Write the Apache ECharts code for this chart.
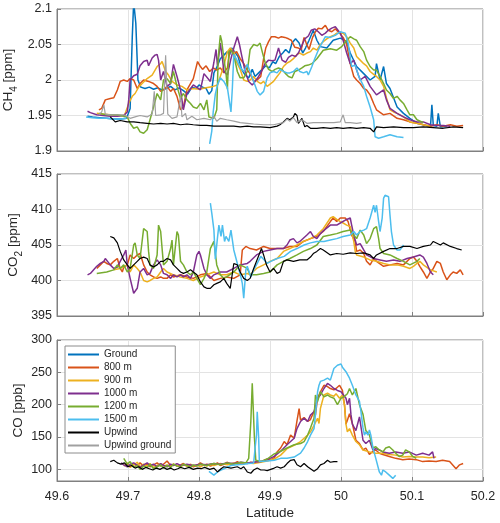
<!DOCTYPE html>
<html><head><meta charset="utf-8">
<script src="https://cdn.jsdelivr.net/npm/echarts@6/dist/echarts.min.js"></script>
<style>html,body{margin:0;padding:0;background:#fff}#c{width:500px;height:523px}</style>
</head><body><div id="c"></div>
<script>
const seriesNames = ['Ground','800 m','900 m','1000 m','1200 m','1500 m','Upwind','Upwind ground'];
const xRange = [49.6, 50.2];
const ch4Range = [1.9, 2.1];
const co2Range = [395, 415];
const coRange = [82, 300];

// ---- CH4 [ppm] : [latitude, value]
const ch4_ground = [[49.643,1.949],[49.65,1.948],[49.66,1.947],[49.67,1.946],[49.68,1.945],[49.69,1.945],[49.698,1.946],[49.703,1.96],[49.706,2.06],[49.708,2.11],[49.711,2.08],[49.714,2.0],[49.718,1.99],[49.724,1.988],[49.73,1.99],[49.736,1.987],[49.742,1.989],[49.748,1.986],[49.754,1.988],[49.76,1.991],[49.766,1.986],[49.772,1.989],[49.778,1.985],[49.784,1.98],[49.79,1.99],[49.796,1.988],[49.8,1.993],[49.805,1.99],[49.81,1.988],[49.814,1.98],[49.818,1.985],[49.821,2.01],[49.826,2.02],[49.83,2.03],[49.835,2.035],[49.84,2.04],[49.843,2.035],[49.846,2.045],[49.85,2.04],[49.855,2.033],[49.86,2.015],[49.865,2.007],[49.87,2.003],[49.875,2.015],[49.879,2.005],[49.884,2.01],[49.889,2.015],[49.894,2.02],[49.899,2.017],[49.904,2.026],[49.908,2.023],[49.913,2.033],[49.918,2.038],[49.922,2.043],[49.927,2.038],[49.931,2.052],[49.936,2.058],[49.941,2.052],[49.946,2.038],[49.95,2.045],[49.955,2.056],[49.961,2.07],[49.966,2.056],[49.971,2.047],[49.98,2.045],[49.989,2.056],[49.999,2.059],[50.008,2.054],[50.013,2.038],[50.022,2.019],[50.032,2.009],[50.041,2.0],[50.048,2.005],[50.05,2.023],[50.055,2.0],[50.06,2.019],[50.064,1.995],[50.069,1.988],[50.079,1.962],[50.088,1.953],[50.097,1.946],[50.107,1.939],[50.116,1.937],[50.126,1.934],[50.128,1.965],[50.13,1.936],[50.135,1.935],[50.137,1.953],[50.14,1.934],[50.149,1.934]];
const ch4_800 = [[49.659,1.958],[49.663,1.96],[49.668,1.972],[49.675,1.974],[49.68,1.975],[49.685,1.986],[49.689,1.998],[49.694,2.0],[49.699,1.998],[49.703,2.002],[49.708,2.0],[49.713,1.988],[49.717,1.995],[49.722,2.0],[49.729,1.998],[49.736,1.995],[49.741,1.991],[49.746,1.984],[49.75,1.986],[49.755,1.991],[49.76,1.984],[49.764,1.988],[49.769,1.977],[49.774,1.958],[49.778,1.962],[49.783,1.986],[49.788,1.995],[49.792,2.002],[49.795,2.014],[49.798,2.026],[49.802,2.019],[49.805,2.015],[49.81,2.02],[49.815,2.012],[49.82,2.017],[49.825,2.014],[49.83,2.017],[49.835,2.01],[49.84,2.017],[49.844,2.045],[49.849,2.037],[49.853,2.04],[49.858,2.03],[49.863,2.023],[49.868,2.014],[49.872,2.009],[49.877,1.998],[49.882,2.0],[49.887,2.005],[49.891,2.03],[49.894,2.045],[49.898,2.054],[49.902,2.061],[49.907,2.061],[49.912,2.059],[49.916,2.061],[49.921,2.06],[49.926,2.058],[49.93,2.056],[49.935,2.046],[49.94,2.045],[49.944,2.043],[49.948,2.06],[49.951,2.052],[49.955,2.043],[49.96,2.06],[49.964,2.068],[49.968,2.073],[49.973,2.072],[49.978,2.077],[49.982,2.07],[49.987,2.068],[49.992,2.072],[49.998,2.066],[50.003,2.06],[50.008,2.05],[50.013,2.023],[50.018,2.005],[50.022,2.0],[50.027,1.995],[50.032,1.988],[50.036,1.986],[50.041,1.979],[50.046,1.967],[50.05,1.958],[50.06,1.951],[50.069,1.953],[50.079,1.946],[50.088,1.944],[50.097,1.941],[50.107,1.939],[50.116,1.937],[50.126,1.935],[50.135,1.937],[50.144,1.935],[50.154,1.937],[50.163,1.935],[50.172,1.936]];
const ch4_900 = [[49.656,1.953],[49.665,1.952],[49.675,1.951],[49.685,1.95],[49.695,1.95],[49.701,1.967],[49.706,1.977],[49.71,1.981],[49.715,1.99],[49.72,1.995],[49.727,2.002],[49.734,2.007],[49.741,2.019],[49.746,2.023],[49.748,2.026],[49.753,2.012],[49.757,2.007],[49.762,1.998],[49.769,1.993],[49.776,1.991],[49.783,1.986],[49.792,1.988],[49.8,1.987],[49.81,1.989],[49.82,1.991],[49.826,1.993],[49.83,2.005],[49.835,2.02],[49.84,2.04],[49.844,2.045],[49.849,2.04],[49.853,2.025],[49.858,2.015],[49.863,2.0],[49.868,1.998],[49.872,2.0],[49.877,2.005],[49.882,1.998],[49.887,1.995],[49.891,1.998],[49.896,1.991],[49.901,1.995],[49.905,1.998],[49.91,2.005],[49.914,2.01],[49.919,2.019],[49.924,2.024],[49.928,2.026],[49.933,2.03],[49.938,2.036],[49.942,2.038],[49.947,2.035],[49.952,2.038],[49.957,2.04],[49.961,2.045],[49.966,2.042],[49.971,2.05],[49.975,2.054],[49.98,2.058],[49.985,2.061],[49.99,2.063],[49.994,2.066],[49.999,2.066],[50.003,2.066],[50.008,2.061],[50.013,2.052],[50.018,2.045],[50.022,2.033],[50.027,2.028],[50.032,2.023],[50.036,2.02],[50.041,2.012],[50.046,2.008],[50.05,2.005],[50.055,2.0],[50.06,1.991],[50.064,1.975],[50.069,1.958],[50.074,1.955],[50.079,1.953],[50.088,1.948],[50.097,1.941],[50.107,1.939],[50.116,1.937],[50.126,1.935]];
const ch4_1000 = [[49.643,1.956],[49.647,1.954],[49.656,1.951],[49.665,1.95],[49.675,1.949],[49.685,1.949],[49.694,1.95],[49.699,1.955],[49.701,1.972],[49.703,2.0],[49.708,2.006],[49.713,2.008],[49.717,2.02],[49.722,2.026],[49.727,2.028],[49.729,2.02],[49.734,2.031],[49.738,2.035],[49.741,2.036],[49.743,2.028],[49.746,2.0],[49.75,2.012],[49.755,1.991],[49.76,1.995],[49.764,2.022],[49.769,2.005],[49.774,1.986],[49.778,1.958],[49.783,1.981],[49.792,1.993],[49.802,1.986],[49.807,2.009],[49.816,1.998],[49.821,2.025],[49.824,2.043],[49.826,2.02],[49.828,2.035],[49.83,2.052],[49.833,2.03],[49.835,2.012],[49.84,2.007],[49.845,2.03],[49.849,2.045],[49.854,2.061],[49.857,2.05],[49.86,2.035],[49.865,2.012],[49.87,1.998],[49.875,1.993],[49.879,1.998],[49.884,2.005],[49.889,2.014],[49.893,2.023],[49.898,2.028],[49.903,2.027],[49.907,2.028],[49.912,2.045],[49.917,2.028],[49.922,2.025],[49.926,2.032],[49.931,2.035],[49.936,2.033],[49.94,2.038],[49.945,2.049],[49.949,2.058],[49.954,2.062],[49.958,2.07],[49.963,2.072],[49.968,2.068],[49.973,2.063],[49.978,2.066],[49.982,2.07],[49.987,2.073],[49.992,2.075],[49.999,2.066],[50.003,2.056],[50.008,2.038],[50.013,2.023],[50.018,2.028],[50.022,2.014],[50.027,2.0],[50.034,2.005],[50.041,1.991],[50.05,1.979],[50.06,1.986],[50.064,1.972],[50.069,1.96],[50.079,1.953],[50.088,1.948],[50.097,1.944],[50.107,1.941],[50.116,1.941],[50.126,1.937],[50.135,1.936],[50.144,1.936],[50.154,1.935]];
const ch4_1200 = [[49.659,1.953],[49.67,1.951],[49.685,1.951],[49.699,1.948],[49.703,1.939],[49.708,1.932],[49.713,1.934],[49.717,1.927],[49.722,1.925],[49.727,1.93],[49.731,1.944],[49.736,1.962],[49.741,1.981],[49.746,1.972],[49.75,2.0],[49.755,2.002],[49.76,1.995],[49.764,2.012],[49.769,1.991],[49.774,1.974],[49.778,1.981],[49.783,1.972],[49.788,1.967],[49.792,1.962],[49.797,1.96],[49.802,1.967],[49.807,1.958],[49.811,1.972],[49.814,1.948],[49.821,1.946],[49.825,1.958],[49.827,2.03],[49.83,2.063],[49.832,2.055],[49.835,2.03],[49.838,2.01],[49.84,1.987],[49.842,2.04],[49.845,2.042],[49.849,2.035],[49.854,2.012],[49.858,2.003],[49.863,2.003],[49.868,2.012],[49.872,2.043],[49.877,2.05],[49.882,2.048],[49.886,2.052],[49.889,2.04],[49.893,2.025],[49.898,2.015],[49.903,2.012],[49.907,2.015],[49.912,2.017],[49.917,2.015],[49.921,2.01],[49.926,2.005],[49.931,2.003],[49.935,2.012],[49.94,2.014],[49.945,2.017],[49.949,2.02],[49.954,2.021],[49.959,2.023],[49.966,2.03],[49.975,2.042],[49.985,2.044],[49.994,2.042],[50.001,2.047],[50.008,2.056],[50.013,2.061],[50.018,2.058],[50.022,2.056],[50.027,2.047],[50.032,2.04],[50.036,2.028],[50.041,2.019],[50.046,2.014],[50.05,2.014],[50.055,2.005],[50.06,1.995],[50.064,1.986],[50.069,1.981],[50.074,1.974],[50.079,1.977],[50.083,1.972],[50.088,1.967],[50.093,1.958],[50.097,1.951],[50.102,1.951],[50.107,1.944],[50.116,1.94]];
const ch4_1500 = [[49.641,1.948],[49.65,1.947],[49.66,1.946],[49.67,1.946],[49.68,1.945],[49.69,1.945],[49.698,1.946],[49.75,null],[49.815,1.91],[49.818,1.928],[49.82,1.955],[49.823,1.98],[49.826,1.993],[49.83,2.003],[49.835,1.998],[49.84,1.989],[49.845,1.955],[49.847,1.989],[49.849,2.036],[49.854,2.027],[49.858,2.018],[49.863,2.012],[49.868,2.022],[49.872,2.012],[49.877,1.998],[49.882,1.984],[49.886,1.979],[49.891,1.984],[49.896,2.003],[49.9,2.01],[49.905,2.012],[49.91,2.01],[49.914,2.015],[49.919,2.012],[49.924,2.01],[49.928,2.01],[49.933,2.012],[49.938,2.017],[49.942,2.012],[49.947,2.01],[49.952,2.012],[49.954,2.007],[49.959,2.019],[49.963,2.03],[49.968,2.042],[49.973,2.052],[49.978,2.061],[49.985,2.06],[49.992,2.063],[49.999,2.068],[50.006,2.066],[50.01,2.052],[50.015,2.019],[50.02,2.021],[50.025,2.005],[50.032,1.991],[50.036,1.977],[50.041,1.962],[50.046,1.944],[50.048,1.92],[50.053,1.918],[50.06,1.92],[50.069,1.923],[50.079,1.92],[50.088,1.919]];
const ch4_upwind = [[49.675,1.948],[49.682,1.941],[49.689,1.943],[49.699,1.941],[49.708,1.941],[49.717,1.94],[49.727,1.939],[49.736,1.938],[49.746,1.939],[49.755,1.938],[49.764,1.939],[49.774,1.937],[49.783,1.938],[49.792,1.937],[49.802,1.936],[49.811,1.936],[49.821,1.935],[49.83,1.935],[49.839,1.935],[49.849,1.935],[49.858,1.934],[49.868,1.935],[49.877,1.934],[49.886,1.934],[49.9,1.933],[49.91,1.935],[49.914,1.937],[49.919,1.941],[49.924,1.946],[49.928,1.944],[49.933,1.948],[49.935,1.953],[49.938,1.95],[49.94,1.939],[49.945,1.946],[49.949,1.934],[49.952,1.936],[49.957,1.932],[49.966,1.932],[49.975,1.933],[49.985,1.932],[49.994,1.933],[50.003,1.932],[50.013,1.933],[50.022,1.932],[50.032,1.933],[50.041,1.932],[50.046,1.927],[50.05,1.934],[50.06,1.933],[50.074,1.934],[50.088,1.933],[50.102,1.933],[50.116,1.934],[50.13,1.933],[50.144,1.932],[50.158,1.934],[50.172,1.933]];
const ch4_upground = [[49.659,1.951],[49.663,1.955],[49.666,1.965],[49.668,1.952],[49.675,1.951],[49.685,1.951],[49.694,1.951],[49.703,1.946],[49.71,1.948],[49.717,1.95],[49.727,1.948],[49.734,1.952],[49.737,1.984],[49.739,1.95],[49.746,1.951],[49.75,1.953],[49.753,2.035],[49.756,1.952],[49.762,1.946],[49.769,1.948],[49.774,1.977],[49.776,1.948],[49.781,1.953],[49.783,1.944],[49.79,1.949],[49.797,1.944],[49.807,1.946],[49.816,1.944],[49.821,1.949],[49.825,1.942],[49.83,1.946],[49.839,1.944],[49.849,1.942],[49.858,1.94],[49.868,1.939],[49.877,1.938],[49.891,1.937],[49.905,1.937],[49.919,1.94],[49.924,1.945],[49.928,1.942],[49.933,1.947],[49.938,1.94],[49.945,1.944],[49.952,1.939],[49.961,1.94],[49.975,1.94],[49.99,1.94],[49.999,1.941],[50.003,1.951],[50.006,1.94],[50.013,1.94],[50.022,1.939],[50.029,1.94]];

// ---- CO2 [ppm]
const co2_800 = [[49.656,401.7],[49.661,402.2],[49.666,402.7],[49.67,402.4],[49.675,402.2],[49.68,402.7],[49.685,403.1],[49.689,401.7],[49.692,401.2],[49.694,401.9],[49.699,402.2],[49.703,403.6],[49.708,403.1],[49.713,403.6],[49.717,403.8],[49.722,402.2],[49.727,401.2],[49.731,400.8],[49.736,400.5],[49.741,400.3],[49.746,400.5],[49.75,400.3],[49.755,400.3],[49.76,400.8],[49.764,400.5],[49.774,400.8],[49.783,400.5],[49.792,400.3],[49.802,400.8],[49.811,401.0],[49.821,400.0],[49.83,400.3],[49.839,400.5],[49.849,400.3],[49.858,400.8],[49.861,404.3],[49.866,404.8],[49.872,404.5],[49.881,404.3],[49.891,404.8],[49.9,404.5],[49.91,404.5],[49.919,404.5],[49.928,404.8],[49.938,404.8],[49.947,405.5],[49.957,405.9],[49.966,406.2],[49.975,406.9],[49.985,408.3],[49.989,408.8],[49.994,408.3],[49.999,408.8],[50.006,408.8],[50.01,408.3],[50.015,406.4],[50.02,405.5],[50.022,404.1],[50.027,404.3],[50.032,403.8],[50.036,402.7],[50.041,402.2],[50.046,403.1],[50.05,402.7],[50.06,402.0],[50.069,402.2],[50.079,402.4],[50.088,402.2],[50.097,403.1],[50.102,403.3],[50.107,402.7],[50.111,402.0],[50.116,401.2],[50.121,400.3],[50.126,401.2],[50.13,401.7],[50.135,402.7],[50.14,402.4],[50.144,401.2],[50.149,400.1],[50.154,400.8],[50.158,401.2],[50.163,401.0],[50.168,401.5],[50.172,400.8]];
const co2_900 = [[49.68,401.5],[49.689,401.7],[49.699,402.2],[49.703,401.2],[49.708,402.2],[49.713,401.7],[49.717,401.2],[49.722,400.0],[49.727,399.8],[49.731,400.0],[49.736,400.3],[49.741,400.5],[49.746,401.2],[49.75,401.7],[49.755,401.2],[49.764,400.8],[49.774,400.5],[49.783,400.3],[49.792,400.0],[49.802,400.5],[49.811,400.8],[49.821,401.2],[49.83,400.8],[49.839,400.8],[49.849,401.2],[49.858,400.8],[49.868,401.0],[49.872,400.8],[49.881,401.7],[49.891,402.2],[49.9,402.7],[49.91,403.1],[49.919,404.1],[49.928,404.5],[49.938,405.0],[49.947,405.5],[49.957,405.9],[49.966,406.4],[49.975,407.3],[49.985,408.8],[49.989,409.0],[49.994,408.6],[49.999,408.3],[50.003,408.1],[50.008,407.8],[50.013,407.6],[50.018,405.5],[50.02,404.1],[50.022,403.6],[50.032,403.3],[50.041,402.9],[50.05,402.7],[50.06,402.4],[50.069,402.2],[50.079,402.2],[50.088,402.0],[50.097,401.7],[50.102,402.0],[50.107,402.4],[50.111,402.7],[50.116,402.2],[50.126,401.5],[50.135,401.2]];
const co2_1000 = [[49.643,400.8],[49.647,401.0],[49.656,402.0],[49.661,402.4],[49.666,402.7],[49.668,403.1],[49.675,402.2],[49.68,401.7],[49.685,401.9],[49.689,402.7],[49.694,403.6],[49.697,404.3],[49.699,402.2],[49.703,400.3],[49.708,398.2],[49.713,398.9],[49.717,401.2],[49.722,401.7],[49.727,400.8],[49.731,401.0],[49.736,402.2],[49.741,402.9],[49.746,402.2],[49.75,401.0],[49.755,400.8],[49.76,400.3],[49.764,400.8],[49.769,400.5],[49.774,400.8],[49.778,400.5],[49.783,400.8],[49.788,400.3],[49.792,401.2],[49.797,403.6],[49.8,404.1],[49.802,403.6],[49.807,401.7],[49.811,400.8],[49.816,400.3],[49.821,400.8],[49.83,401.2],[49.839,401.2],[49.849,401.7],[49.858,402.2],[49.868,402.4],[49.872,402.7],[49.881,403.6],[49.891,404.1],[49.9,404.3],[49.91,404.5],[49.919,404.5],[49.924,405.0],[49.928,405.7],[49.933,405.9],[49.938,405.3],[49.942,405.5],[49.952,406.4],[49.957,406.9],[49.961,406.2],[49.966,405.9],[49.971,406.6],[49.975,407.0],[49.985,407.8],[49.994,407.8],[49.999,408.1],[50.008,408.6],[50.013,408.8],[50.015,407.8],[50.018,406.4],[50.022,405.0],[50.027,405.2],[50.032,404.3],[50.036,403.6],[50.046,403.1],[50.055,402.9],[50.064,402.7],[50.074,402.9],[50.083,402.7],[50.093,403.1],[50.102,403.3],[50.111,403.6],[50.116,403.3],[50.121,402.4],[50.126,401.2],[50.13,400.8]];
const co2_1200 = [[49.656,401.0],[49.67,401.2],[49.68,401.5],[49.685,402.2],[49.689,401.7],[49.694,402.2],[49.699,401.2],[49.703,401.7],[49.708,405.0],[49.71,405.3],[49.713,403.6],[49.717,403.1],[49.722,407.3],[49.727,406.9],[49.729,404.1],[49.731,402.2],[49.736,401.7],[49.741,403.6],[49.743,407.8],[49.746,406.9],[49.75,402.2],[49.755,402.7],[49.76,404.5],[49.762,405.7],[49.764,402.2],[49.769,406.9],[49.771,406.4],[49.774,402.7],[49.778,402.2],[49.783,401.2],[49.788,400.8],[49.792,401.2],[49.797,400.3],[49.802,399.4],[49.807,400.3],[49.811,401.2],[49.816,404.5],[49.821,405.5],[49.825,402.2],[49.83,400.8],[49.835,400.3],[49.839,400.5],[49.849,401.2],[49.858,402.2],[49.868,401.7],[49.872,400.8],[49.881,400.8],[49.891,401.0],[49.9,401.2],[49.91,402.2],[49.919,402.7],[49.928,403.1],[49.938,403.6],[49.947,404.1],[49.957,404.5],[49.966,405.0],[49.975,406.2],[49.985,406.4],[49.994,406.6],[50.003,406.9],[50.013,407.1],[50.018,406.4],[50.022,405.9],[50.027,407.1],[50.032,406.4],[50.036,405.2],[50.041,405.9],[50.046,407.3],[50.05,407.6],[50.053,405.9],[50.055,404.5],[50.06,403.8],[50.069,403.6],[50.079,403.1],[50.088,402.7],[50.097,402.2],[50.107,402.7],[50.111,403.1]];
const co2_1500 = [[49.816,410.9],[49.818,409.5],[49.821,407.1],[49.823,403.0],[49.826,406.0],[49.828,407.8],[49.831,406.2],[49.833,407.8],[49.836,405.5],[49.838,406.2],[49.842,405.5],[49.845,407.1],[49.849,404.3],[49.854,402.4],[49.859,400.5],[49.861,399.6],[49.863,397.5],[49.866,401.5],[49.868,402.0],[49.873,400.5],[49.877,401.5],[49.882,402.4],[49.887,403.4],[49.892,402.9],[49.896,402.4],[49.901,402.7],[49.91,403.1],[49.92,403.4],[49.929,404.1],[49.938,404.5],[49.948,405.0],[49.957,405.3],[49.966,405.5],[49.976,405.5],[49.985,405.7],[49.994,405.9],[50.003,406.2],[50.013,406.4],[50.018,406.9],[50.022,406.4],[50.027,406.9],[50.032,407.1],[50.036,407.3],[50.041,408.8],[50.046,410.6],[50.048,409.6],[50.05,410.6],[50.053,408.3],[50.055,406.9],[50.058,408.8],[50.06,411.6],[50.062,412.0],[50.067,411.8],[50.069,409.2],[50.071,406.9],[50.074,405.0],[50.079,404.3],[50.083,404.3],[50.088,405.0]];
const co2_upwind = [[49.675,406.2],[49.68,406.0],[49.685,405.3],[49.687,405.5],[49.689,404.1],[49.694,402.9],[49.699,402.2],[49.703,401.7],[49.708,402.2],[49.713,402.7],[49.717,403.1],[49.722,403.3],[49.727,403.1],[49.731,402.2],[49.736,401.9],[49.741,402.2],[49.746,402.7],[49.75,402.7],[49.755,403.1],[49.76,402.9],[49.764,402.2],[49.769,401.7],[49.774,401.2],[49.778,401.0],[49.783,401.2],[49.788,401.5],[49.792,401.2],[49.797,400.8],[49.802,399.8],[49.807,399.1],[49.811,398.9],[49.816,398.9],[49.821,399.4],[49.825,399.6],[49.83,399.8],[49.835,400.3],[49.839,399.6],[49.844,398.9],[49.849,402.4],[49.854,402.2],[49.858,401.2],[49.863,400.3],[49.868,400.0],[49.872,400.3],[49.877,401.7],[49.881,402.7],[49.888,404.5],[49.891,403.6],[49.895,402.2],[49.9,401.2],[49.905,401.7],[49.91,401.0],[49.914,401.2],[49.919,402.7],[49.924,402.9],[49.933,402.7],[49.942,402.9],[49.952,402.9],[49.957,403.3],[49.961,403.8],[49.966,404.1],[49.971,404.5],[49.975,404.3],[49.985,403.6],[49.994,403.8],[50.003,403.7],[50.013,403.9],[50.022,403.8],[50.032,403.9],[50.041,403.6],[50.046,403.1],[50.05,403.6],[50.06,404.1],[50.069,404.5],[50.079,404.5],[50.088,404.8],[50.097,404.8],[50.107,404.5],[50.116,404.8],[50.126,405.0],[50.13,405.5],[50.14,405.0],[50.144,405.3],[50.154,404.8],[50.163,404.5],[50.17,404.3]];

// ---- CO [ppb]
const co_800 = [[49.698,109],[49.703,104],[49.708,108],[49.713,106],[49.717,110],[49.722,105],[49.727,108],[49.731,104],[49.736,107],[49.741,110],[49.746,105],[49.75,108],[49.755,113],[49.76,106],[49.764,108],[49.769,105],[49.774,107],[49.778,109],[49.783,105],[49.788,107],[49.792,104],[49.797,106],[49.802,110],[49.807,106],[49.811,108],[49.816,105],[49.821,107],[49.826,110],[49.83,106],[49.835,108],[49.84,111],[49.845,107],[49.849,109],[49.854,112],[49.859,108],[49.863,110],[49.868,109],[49.873,111],[49.877,110],[49.882,113],[49.887,112],[49.892,114],[49.896,116],[49.901,115],[49.906,118],[49.91,127],[49.915,133],[49.92,143],[49.924,138],[49.929,153],[49.934,148],[49.938,175],[49.941,194],[49.943,176],[49.948,180],[49.953,174],[49.957,177],[49.962,190],[49.964,184],[49.967,210],[49.971,220],[49.976,230],[49.981,228],[49.985,225],[49.99,223],[49.993,225],[49.998,230],[50.002,222],[50.005,199],[50.007,170],[50.009,176],[50.012,186],[50.016,171],[50.021,145],[50.026,140],[50.031,130],[50.035,133],[50.04,123],[50.045,128],[50.049,130],[50.054,125],[50.059,123],[50.068,120],[50.077,117],[50.087,115],[50.096,116],[50.106,115],[50.115,112],[50.124,113],[50.134,112],[50.143,114],[50.153,112],[50.162,101],[50.167,107],[50.172,109]];
const co_900 = [[49.694,105],[49.699,110],[49.703,103],[49.708,107],[49.713,111],[49.717,104],[49.722,108],[49.727,105],[49.731,109],[49.736,103],[49.741,106],[49.746,109],[49.75,105],[49.755,107],[49.76,104],[49.764,108],[49.769,106],[49.774,104],[49.778,107],[49.783,105],[49.788,108],[49.792,105],[49.797,107],[49.802,104],[49.807,107],[49.811,105],[49.816,108],[49.821,106],[49.83,109],[49.84,107],[49.849,110],[49.859,108],[49.868,110],[49.877,109],[49.887,111],[49.896,113],[49.906,116],[49.915,122],[49.924,132],[49.934,137],[49.943,143],[49.948,148],[49.953,153],[49.957,158],[49.962,168],[49.967,179],[49.969,171],[49.971,194],[49.976,215],[49.981,218],[49.985,215],[49.99,213],[49.993,217],[49.998,210],[50.002,215],[50.005,199],[50.007,170],[50.009,158],[50.012,163],[50.016,153],[50.021,143],[50.026,138],[50.031,130],[50.04,127],[50.049,125],[50.059,125],[50.068,123],[50.077,122],[50.087,119],[50.096,120],[50.106,119],[50.115,119],[50.124,118],[50.134,119]];
const co_1000 = [[49.69,110],[49.694,107],[49.699,104],[49.703,108],[49.708,110],[49.713,106],[49.717,103],[49.722,107],[49.727,110],[49.731,106],[49.736,108],[49.741,104],[49.746,109],[49.75,106],[49.755,104],[49.76,108],[49.764,106],[49.769,109],[49.774,106],[49.783,108],[49.792,106],[49.802,108],[49.811,107],[49.821,109],[49.83,108],[49.84,110],[49.849,109],[49.859,111],[49.868,110],[49.877,111],[49.887,112],[49.896,115],[49.906,120],[49.915,128],[49.924,138],[49.929,143],[49.934,148],[49.938,163],[49.943,174],[49.948,179],[49.953,174],[49.957,184],[49.962,189],[49.967,210],[49.971,215],[49.976,225],[49.981,233],[49.985,230],[49.99,225],[49.995,222],[50.0,220],[50.002,218],[50.007,210],[50.009,200],[50.012,210],[50.014,185],[50.016,170],[50.021,160],[50.026,181],[50.031,145],[50.035,140],[50.04,145],[50.045,130],[50.049,132],[50.054,130],[50.059,127],[50.068,125],[50.077,127],[50.087,125],[50.096,127],[50.106,122],[50.115,125],[50.124,122],[50.129,127],[50.131,117]];
const co_1200 = [[49.694,117],[49.699,108],[49.703,112],[49.708,103],[49.713,106],[49.717,100],[49.722,105],[49.727,103],[49.731,108],[49.736,101],[49.741,104],[49.746,107],[49.75,102],[49.755,106],[49.76,103],[49.764,108],[49.769,105],[49.774,104],[49.778,108],[49.783,106],[49.788,103],[49.792,107],[49.797,105],[49.802,108],[49.811,106],[49.821,109],[49.83,107],[49.84,110],[49.849,108],[49.859,111],[49.866,110],[49.87,117],[49.873,174],[49.875,233],[49.877,233],[49.878,150],[49.88,114],[49.887,112],[49.896,116],[49.906,124],[49.915,128],[49.924,133],[49.934,138],[49.943,140],[49.948,143],[49.953,153],[49.957,164],[49.962,179],[49.964,215],[49.967,205],[49.971,220],[49.976,212],[49.981,215],[49.985,212],[49.99,210],[49.995,200],[50.0,210],[50.004,212],[50.009,217],[50.012,225],[50.016,215],[50.021,225],[50.026,200],[50.031,185],[50.035,160],[50.04,153],[50.045,133],[50.049,135],[50.054,130],[50.059,127],[50.063,133],[50.068,135],[50.073,130],[50.077,125],[50.082,120],[50.087,122],[50.091,130],[50.096,127],[50.101,120],[50.106,117]];
const co_1500 = [[49.814,97],[49.816,94],[49.821,91],[49.826,96],[49.831,99],[49.835,101],[49.845,106],[49.854,107],[49.863,108],[49.87,109],[49.877,110],[49.879,133],[49.881,153],[49.882,189],[49.884,150],[49.885,112],[49.887,111],[49.896,113],[49.906,114],[49.915,117],[49.924,117],[49.934,119],[49.943,125],[49.948,133],[49.953,143],[49.957,153],[49.962,163],[49.964,184],[49.967,220],[49.969,230],[49.971,236],[49.976,238],[49.981,241],[49.985,238],[49.99,256],[49.995,261],[50.0,263],[50.002,258],[50.007,251],[50.012,241],[50.016,230],[50.021,215],[50.026,205],[50.028,190],[50.031,164],[50.033,153],[50.035,158],[50.038,153],[50.04,161],[50.042,153],[50.045,133],[50.049,117],[50.054,96],[50.057,91],[50.059,99],[50.063,96],[50.068,91],[50.073,86],[50.075,83.5],[50.077,91]];
const co_upwind = [[49.675,112],[49.68,114],[49.685,110],[49.69,108],[49.695,110],[49.7,104],[49.705,106],[49.71,102],[49.715,104],[49.72,100],[49.725,103],[49.73,101],[49.735,99],[49.74,102],[49.745,100],[49.75,103],[49.755,100],[49.76,102],[49.765,99],[49.77,101],[49.774,103],[49.78,101],[49.786,103],[49.792,100],[49.798,102],[49.803,101],[49.808,103],[49.815,100],[49.821,102],[49.826,96],[49.831,101],[49.835,104],[49.845,102],[49.854,104],[49.859,101],[49.863,104],[49.868,96],[49.873,94],[49.877,99],[49.882,102],[49.887,99],[49.892,99],[49.896,98],[49.906,102],[49.91,104],[49.915,102],[49.92,104],[49.924,109],[49.929,114],[49.934,115],[49.938,107],[49.943,104],[49.948,109],[49.953,104],[49.957,101],[49.962,97],[49.967,101],[49.971,107],[49.976,109],[49.981,114],[49.985,111],[49.99,112],[49.995,112]];

const yTitles = [['CH', '4', ' [ppm]'], ['CO', '2', ' [ppm]'], ['CO', '', ' [ppb]']];

const panels = [
  {range: ch4Range, data: [ch4_ground, ch4_800, ch4_900, ch4_1000, ch4_1200, ch4_1500, ch4_upwind, ch4_upground]},
  {range: co2Range, data: [null, co2_800, co2_900, co2_1000, co2_1200, co2_1500, co2_upwind, null]},
  {range: coRange, data: [null, co_800, co_900, co_1000, co_1200, co_1500, co_upwind, null]}
];

// styling
const colors = ['#0072BD','#D95319','#EDB120','#7E2F8E','#77AC30','#4DBEEE','#000000','#A0A0A0'];
const widths = [1.5,1.5,1.5,1.5,1.5,1.5,1.2,1.2];
const font = 'Liberation Sans, Arial, sans-serif';
const txt = '#262626';
const axCol = '#808080';
const grids = [
  {left: 57, right: 17, top: 9, height: 142},
  {left: 57, right: 17, top: 174, height: 142},
  {left: 57, right: 17, top: 340, height: 141}
];
const titleX = [10, 15, 20];
const fmt = v => String(+(+v).toFixed(3));

const xAxes = grids.map((g, i) => ({
  type: 'value', gridIndex: i, min: xRange[0], max: xRange[1], interval: 0.1,
  axisLine: {show: true, lineStyle: {color: axCol}},
  axisTick: {show: true, inside: true, length: 4, lineStyle: {color: axCol}},
  axisLabel: {show: i === 2, color: txt, fontFamily: font, fontSize: 12.5, margin: 9, formatter: fmt},
  splitLine: {show: true, lineStyle: {color: '#e3e3e3', width: 1}},
  name: i === 2 ? 'Latitude' : '', nameLocation: 'middle', nameGap: 25,
  nameTextStyle: {color: txt, fontFamily: font, fontSize: 13.5}
}));
const yAxes = grids.map((g, i) => {
  const r = panels[i].range;
  const ax = {
    type: 'value', gridIndex: i, min: r[0], max: r[1],
    axisLine: {show: true, lineStyle: {color: axCol}},
    axisTick: {show: true, inside: true, length: 4, lineStyle: {color: axCol}},
    axisLabel: {color: txt, fontFamily: font, fontSize: 12.5, margin: 5, formatter: fmt, showMinLabel: i !== 2},
    splitLine: {show: true, lineStyle: {color: '#e3e3e3', width: 1}}
  };
  if (i === 0) ax.interval = 0.05;
  if (i === 1) ax.interval = 5;
  if (i === 2) ax.splitNumber = 5;
  return ax;
});

const graphics = grids.map((g, i) => {
  const t = yTitles[i];
  return {
    type: 'text', x: titleX[i], y: g.top + g.height / 2, rotation: Math.PI / 2, silent: true,
    style: {
      text: '{n|' + t[0] + '}' + (t[1] ? '{s|' + t[1] + '}' : '') + '{n|' + t[2] + '}',
      align: 'center', verticalAlign: 'middle', fill: txt,
      rich: {
        n: {fontSize: 13.5, fill: txt, fontFamily: font, lineHeight: 18, verticalAlign: 'top'},
        s: {fontSize: 10, fill: txt, fontFamily: font, lineHeight: 10, verticalAlign: 'bottom'}
      }
    }
  };
});

const series = [];
panels.forEach((p, pi) => {
  p.data.forEach((d, si) => {
    if (!d) return;
    series.push({
      name: seriesNames[si], type: 'line', xAxisIndex: pi, yAxisIndex: pi,
      data: d, showSymbol: false, symbol: 'none', connectNulls: false,
      lineStyle: {color: colors[si], width: widths[si]},
      itemStyle: {color: colors[si]},
      emphasis: {disabled: true}, animation: false, z: 2
    });
  });
});
// legend-only placeholders so every entry appears with its style
series.push({name: 'Ground', type: 'line', xAxisIndex: 2, yAxisIndex: 2, data: [], itemStyle: {color: colors[0]}, lineStyle: {color: colors[0]}});
series.push({name: 'Upwind ground', type: 'line', xAxisIndex: 2, yAxisIndex: 2, data: [], itemStyle: {color: colors[7]}, lineStyle: {color: colors[7]}});

const chart = echarts.init(document.getElementById('c'), null, {renderer: 'canvas'});
chart.setOption({
  animation: false,
  backgroundColor: '#fff',
  grid: grids.map(g => Object.assign({show: true, borderColor: axCol, borderWidth: 1, backgroundColor: 'transparent'}, g)),
  xAxis: xAxes,
  yAxis: yAxes,
  graphic: graphics,
  legend: {
    data: seriesNames, orient: 'vertical', left: 65, top: 346,
    icon: 'rect', itemWidth: 31, itemHeight: 2, itemGap: 0,
    padding: [2, 4, 1, 3],
    backgroundColor: '#fff', borderColor: '#8c8c8c', borderWidth: 1,
    textStyle: {color: txt, fontFamily: font, fontSize: 10, lineHeight: 13},
    selectedMode: false, z: 10
  },
  series: series
});
</script></body></html>
